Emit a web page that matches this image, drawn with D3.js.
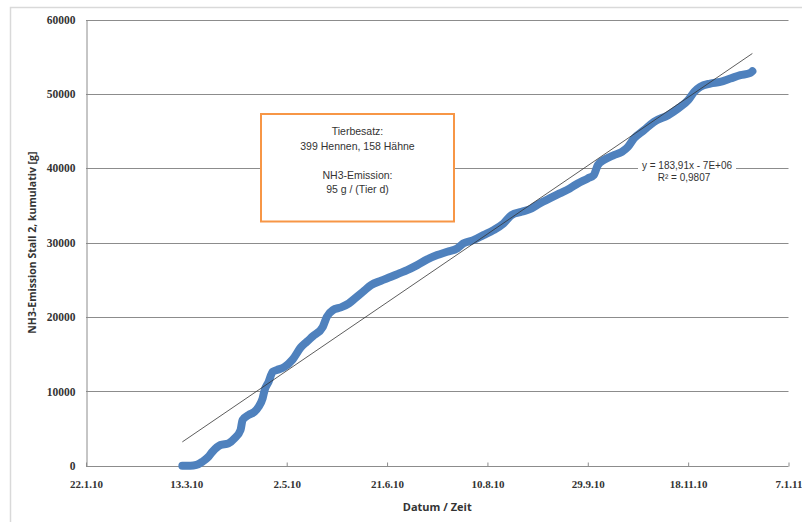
<!DOCTYPE html>
<html>
<head>
<meta charset="utf-8">
<script src="https://cdn.jsdelivr.net/npm/d3@7"></script>
<style>
  html, body { margin: 0; padding: 0; background: #fff; }
  svg { display: block; }
</style>
</head>
<body>
<svg id="chart" width="802" height="522"></svg>
<script>
// ---- data ----
const dates = [
  "2010-03-11","2010-03-15","2010-03-18","2010-03-21","2010-03-24","2010-03-26","2010-03-30",
  "2010-04-03","2010-04-06","2010-04-09","2010-04-10","2010-04-13","2010-04-16","2010-04-18",
  "2010-04-20","2010-04-21","2010-04-23","2010-04-25","2010-04-27","2010-05-01","2010-05-05",
  "2010-05-09","2010-05-12","2010-05-15","2010-05-20","2010-05-22","2010-05-25","2010-05-29",
  "2010-06-02","2010-06-05","2010-06-09","2010-06-13","2010-06-18","2010-06-23","2010-06-27",
  "2010-07-01","2010-07-06","2010-07-11","2010-07-16","2010-07-21","2010-07-26","2010-07-29",
  "2010-08-03","2010-08-08","2010-08-13","2010-08-18","2010-08-22","2010-08-27","2010-09-01",
  "2010-09-05","2010-09-10","2010-09-15","2010-09-20","2010-09-24","2010-09-29","2010-10-02",
  "2010-10-04","2010-10-07","2010-10-12","2010-10-16","2010-10-19","2010-10-22","2010-10-27",
  "2010-11-01","2010-11-08","2010-11-13","2010-11-18","2010-11-21","2010-11-24","2010-11-29",
  "2010-12-04","2010-12-09","2010-12-14","2010-12-19","2010-12-20"
];
const emission = [
  0, 0, 100, 540, 1200, 1880, 2780,
  3010, 3680, 4800, 6140, 6810, 7260, 7930,
  9060, 10170, 11290, 12630, 12860, 13300, 14300,
  15900, 16670, 17400, 18680, 20030, 20930, 21290,
  21830, 22500, 23390, 24290, 24870, 25400, 25860,
  26300, 26970, 27740, 28320, 28760, 29220, 29890,
  30330, 31000, 31680, 32580, 33700, 34140, 34590,
  35270, 35940, 36610, 37280, 37960, 38630, 39080,
  40420, 41100, 41770, 42210, 42880, 44000, 45120,
  46240, 47130, 48030, 49150, 50270, 50940, 51390,
  51610, 52060, 52510, 52820, 53050
];
// trendline as labelled (Excel serial day numbers), intercept
const trendSlope = 183.91;
const trendIntercept = -7398810;
const trendLabel = ["y = 183,91x - 7E+06", "R\u00b2 = 0,9807"];

const xTickLabels = ["22.1.10","13.3.10","2.5.10","21.6.10","10.8.10","29.9.10","18.11.10","7.1.11"];
const xTickDates = ["2010-01-22","2010-03-13","2010-05-02","2010-06-21","2010-08-10","2010-09-29","2010-11-18","2011-01-07"];
const yTicks = [0, 10000, 20000, 30000, 40000, 50000, 60000];
const boxLines = ["Tierbesatz:", "399 Hennen, 158 H\u00e4hne", "", "NH3-Emission:", "95 g / (Tier d)"];
const xTitle = "Datum / Zeit";
const yTitle = "NH3-Emission Stall 2, kumulativ [g]";

// ---- drawing ----
const svg = d3.select("#chart");
const parse = d3.utcParse("%Y-%m-%d");
const plotL = 86, plotR = 788.5, plotT = 19.5, plotB = 465.7;

const x = d3.scaleUtc()
  .domain([parse(xTickDates[0]), parse(xTickDates[xTickDates.length - 1])])
  .range([plotL, plotR]);
const y = d3.scaleLinear().domain([0, 60000]).range([plotB, plotT]);

const serialToDate = s => new Date(Date.UTC(1899, 11, 30) + s * 86400000);
const dateToSerial = d => (d.getTime() - Date.UTC(1899, 11, 30)) / 86400000;

// outer chart border
svg.append("path")
  .attr("d", "M10.5,522 V7.5 H802")
  .attr("fill", "none").attr("stroke", "#d9d9d9").attr("stroke-width", 1.5);

// gridlines
svg.append("g").selectAll("line").data(yTicks.filter(v => v > 0)).join("line")
  .attr("x1", plotL).attr("x2", plotR)
  .attr("y1", d => Math.round(y(d)) + 0.5).attr("y2", d => Math.round(y(d)) + 0.5)
  .attr("stroke", "#8c8c8c").attr("stroke-width", 1);

// y axis
const yAxis = svg.append("g").attr("transform", `translate(${plotL + 0.5},0)`)
  .call(d3.axisLeft(y).tickValues(yTicks).tickSize(0).tickPadding(11).tickFormat(d3.format("d")));
yAxis.select(".domain").attr("stroke", "#8c8c8c");
yAxis.selectAll("text")
  .attr("font-family", "'Liberation Serif', serif").attr("font-weight", "bold")
  .attr("font-size", "11.5px").attr("fill", "#333");

// x axis (ticks inside)
const xAxis = svg.append("g").attr("transform", `translate(0,${Math.round(plotB) + 0.5})`)
  .call(d3.axisBottom(x).tickValues(xTickDates.map(parse)).tickSize(-4).tickPadding(14)
    .tickFormat((d, i) => xTickLabels[i]));
xAxis.select(".domain").attr("stroke", "#8c8c8c").attr("d", `M${plotL},0H${plotR}`);
xAxis.selectAll(".tick line").attr("stroke", "#8c8c8c");
xAxis.selectAll("text")
  .attr("font-family", "'Liberation Serif', serif").attr("font-weight", "bold")
  .attr("font-size", "11px").attr("fill", "#333");

// axis titles
svg.append("text").text(xTitle)
  .attr("x", (plotL + plotR) / 2).attr("y", 511)
  .attr("text-anchor", "middle")
  .attr("font-family", "'Open Sans', sans-serif").attr("font-weight", "bold")
  .attr("font-size", "11px").attr("fill", "#333");
svg.append("text").text(yTitle)
  .attr("transform", `translate(36,${(plotT + plotB) / 2}) rotate(-90)`)
  .attr("text-anchor", "middle")
  .attr("font-family", "'Open Sans', sans-serif").attr("font-weight", "bold")
  .attr("font-size", "10.5px").attr("fill", "#333");

// data series (dense markers drawn as a thick band)
const pts = dates.map((d, i) => ({ date: parse(d), value: emission[i] }));
const line = d3.line().x(d => x(d.date)).y(d => y(d.value)).curve(d3.curveMonotoneX);
svg.append("path").datum(pts)
  .attr("d", line)
  .attr("fill", "none").attr("stroke", "#4f81bd")
  .attr("stroke-width", 8).attr("stroke-linejoin", "round").attr("stroke-linecap", "round");

// trendline across the data range
const s0 = dateToSerial(pts[0].date), s1 = dateToSerial(pts[pts.length - 1].date);
const trend = [s0, s1].map(s => ({ date: serialToDate(s), value: trendSlope * s + trendIntercept }));
svg.append("path").datum(trend)
  .attr("d", d3.line().x(d => x(d.date)).y(d => y(d.value)))
  .attr("stroke", "#333").attr("stroke-width", 0.8).attr("fill", "none");

// trendline label (white background)
const tl = svg.append("g").attr("transform", "translate(686,0)");
tl.append("rect").attr("x", -48).attr("y", 158).attr("width", 98).attr("height", 26).attr("fill", "#fff");
tl.selectAll("text").data(trendLabel).join("text")
  .attr("x", (d, i) => i === 0 ? 1 : -2).attr("y", (d, i) => 169 + i * 12)
  .attr("text-anchor", "middle")
  .attr("font-family", "'Liberation Sans', sans-serif").attr("font-size", "10px").attr("fill", "#333")
  .text(d => d);

// annotation box
const box = svg.append("g");
box.append("rect").attr("x", 261).attr("y", 114).attr("width", 193).attr("height", 107.5)
  .attr("fill", "#fff").attr("stroke", "#f79646").attr("stroke-width", 2);
box.selectAll("text").data(boxLines).join("text")
  .attr("x", 357.5).attr("y", (d, i) => 135 + i * 14.6)
  .attr("text-anchor", "middle")
  .attr("font-family", "'Liberation Sans', sans-serif").attr("font-size", "10.5px").attr("fill", "#333")
  .text(d => d);
</script>
</body>
</html>
